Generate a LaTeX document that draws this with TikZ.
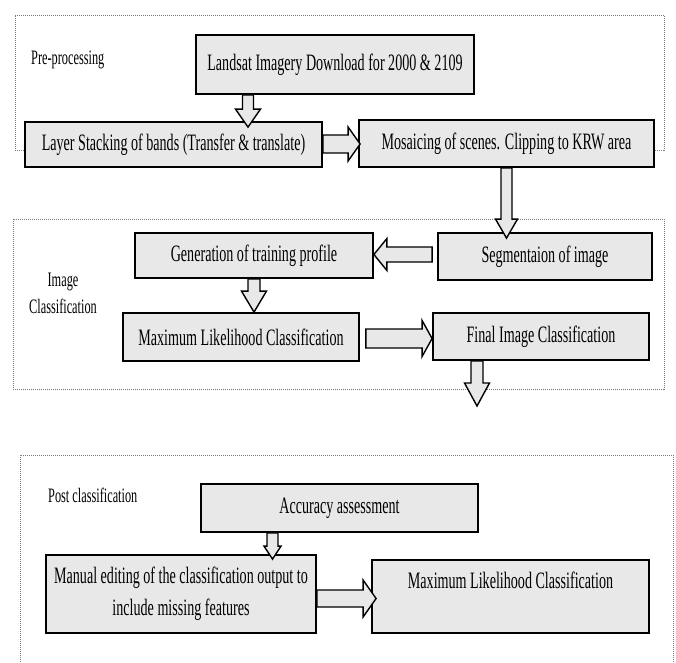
\documentclass[tikz,border=0pt]{standalone}
\usepackage{fontspec}
\setmainfont{Liberation Serif}[FakeStretch=0.6]
\usetikzlibrary{calc}
\definecolor{boxgray}{HTML}{E8E8E8}
\definecolor{framegray}{HTML}{7A7A7A}
\tikzset{
  box/.style={draw=black, line width=1.8pt, fill=boxgray, inner sep=0pt, align=center, font=\fontsize{23.5}{32}\selectfont},
  lbl/.style={font=\fontsize{20.5}{27}\selectfont, inner sep=0pt, align=center},
  frame/.style={draw=framegray, line width=1pt, dash pattern=on 1pt off 1pt},
  barrow/.style={draw=black, line width=1.4pt, fill=boxgray, line join=miter},
}
\newcommand{\blockarrow}[5]{%
  \coordinate (ba-c) at ($(#2)!#5!(#1)$);
  \draw[barrow] ($(#1)!#3!90:(#2)$) -- ($(ba-c)!#3!90:(#2)$) -- ($(ba-c)!#4!90:(#2)$) -- (#2) -- ($(ba-c)!#4!-90:(#2)$) -- ($(ba-c)!#3!-90:(#2)$) -- ($(#1)!#3!-90:(#2)$) -- cycle;
}
\begin{document}
\begin{tikzpicture}[x=1pt,y=-1pt]
\useasboundingbox[fill=white] (0,0) rectangle (676,662);
% boxes
\node[box, minimum width=278, minimum height=59] (land) at (335,64.5) {Landsat Imagery Download for 2000 \& 2109};
\node[box, minimum width=297, minimum height=45] (layer) at (173.5,144.5) {Layer Stacking of bands (Transfer \& translate)};
\node[box, minimum width=295, minimum height=47] (mosaic) at (506.5,143.5) {Mosaicing of scenes. Clipping to KRW area};
\node[box, minimum width=214, minimum height=47] (seg) at (545,256.5) {Segmentaion of image};
\node[box, minimum width=238, minimum height=45] (gen) at (254,255.5) {Generation of training profile};
\node[box, minimum width=236, minimum height=48] (ml) at (241,337) {Maximum Likelihood Classification};
\node[box, minimum width=216, minimum height=47] (final) at (541,336.5) {Final Image Classification};
\node[box, minimum width=277, minimum height=48] (acc) at (339.5,508) {Accuracy assessment};
\node[box, minimum width=270, minimum height=78] (manual) at (181,594) {Manual editing of the classification output to\\include missing features};
\node[box, minimum width=277, minimum height=73] (ml2) at (510.5,596.5) {Maximum Likelihood Classification\\~};
% labels
\node[lbl, anchor=west] (pre) at (31,60) {Pre-processing};
\node[lbl] (imgc) at (63,293) {Image\\Classification};
\node[lbl, anchor=west] (post) at (48,495) {Post classification};
% frames
\coordinate (pb) at (0,150);
\draw[frame] (layer.west |- pb) -- (15,150) -- (15,15) -- (664,15) -- (664,150) -- (mosaic.east |- pb);
\draw[frame] (13,219) rectangle (664,389);
\draw[frame] (20,662) -- (20,455) -- (673,455) -- (673,662);
% arrows
\coordinate (x1) at (248,0);
\coordinate (a1s) at (x1 |- land.south);
\coordinate (a1e) at ($(x1 |- layer.north)+(0,6)$);
\blockarrow{a1s}{a1e}{5.5pt}{12.5pt}{18pt}
\coordinate (y2) at (0,144);
\coordinate (a2s) at (layer.east |- y2);
\coordinate (a2e) at ($(mosaic.west |- y2)+(2,0)$);
\blockarrow{a2s}{a2e}{9pt}{17pt}{12pt}
\coordinate (x3) at (506.5,0);
\coordinate (a3s) at (x3 |- mosaic.south);
\coordinate (a3e) at ($(x3 |- seg.north)+(0,6)$);
\blockarrow{a3s}{a3e}{5.5pt}{11pt}{19pt}
\coordinate (y4) at (0,254.5);
\coordinate (a4s) at ($(seg.west |- y4)+(-5,0)$);
\coordinate (a4e) at (gen.east |- y4);
\blockarrow{a4s}{a4e}{7.5pt}{16pt}{13pt}
\coordinate (x5) at (254,0);
\coordinate (a5s) at (x5 |- gen.south);
\coordinate (a5e) at (x5 |- ml.north);
\blockarrow{a5s}{a5e}{6pt}{12.5pt}{21pt}
\coordinate (y6) at (0,338.5);
\coordinate (a6s) at ($(ml.east |- y6)+(6,0)$);
\coordinate (a6e) at (final.west |- y6);
\blockarrow{a6s}{a6e}{9.5pt}{18pt}{10pt}
\coordinate (x7) at (477,0);
\coordinate (a7s) at (x7 |- final.south);
\coordinate (a7e) at (477,406);
\blockarrow{a7s}{a7e}{6pt}{12.5pt}{23pt}
\coordinate (x8) at (272.5,0);
\coordinate (a8s) at (x8 |- acc.south);
\coordinate (a8e) at ($(x8 |- manual.north)+(0,5)$);
\blockarrow{a8s}{a8e}{5.5pt}{8.5pt}{13pt}
\coordinate (y9) at (0,598.5);
\coordinate (a9s) at (manual.east |- y9);
\coordinate (a9e) at ($(ml2.west |- y9)+(5,0)$);
\blockarrow{a9s}{a9e}{8.5pt}{18.5pt}{13pt}
\end{tikzpicture}
\end{document}
